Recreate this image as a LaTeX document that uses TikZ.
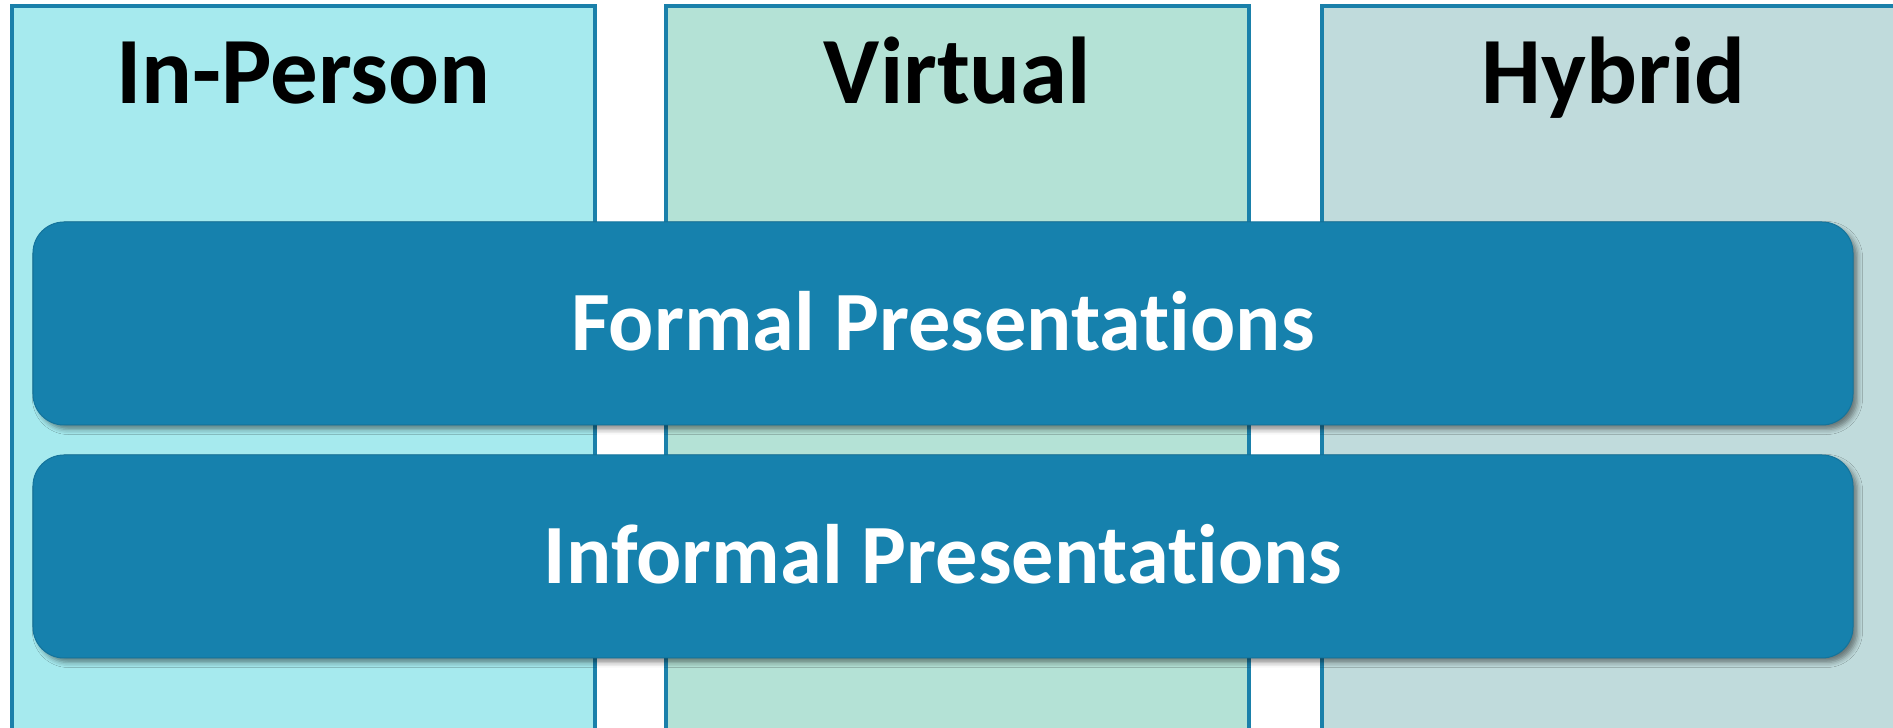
\documentclass[tikz,border=0pt]{standalone}
\usepackage{fontspec}
\setmainfont[Ligatures=NoCommon]{Carlito}
\usetikzlibrary{shadows.blur}

\definecolor{inperson}{RGB}{166,234,238}
\definecolor{virtual}{RGB}{180,226,214}
\definecolor{hybrid}{RGB}{192,219,220}
\definecolor{edgeblue}{RGB}{26,128,170}
\definecolor{barblue}{RGB}{22,129,173}

\begin{document}
\begin{tikzpicture}[col node/.style={rectangle,draw=edgeblue,line width=0.07cm,minimum width=11.66cm,minimum height=15.08cm,inner sep=0pt},
    title node/.style={anchor=base,font=\fontsize{54}{60}\selectfont\bfseries,inner sep=0pt},
    bar node/.style={rectangle,rounded corners=0.62cm,fill=barblue,draw=barblue!90!black,line width=0.02cm,minimum width=36.4cm,minimum height=4.06cm,text=white,font=\fontsize{48}{52}\selectfont\bfseries,text height=1.1cm,text depth=0pt,
        blur shadow={shadow xshift=0.09cm,shadow yshift=-0.09cm,shadow blur radius=0.1cm,shadow opacity=45}}]

                \clip (0,0) rectangle (37.86,-14.56);
                \useasboundingbox (0,0) rectangle (37.86,-14.56);

                % three columns in the back
                \node[col node,fill=inperson] at (6.07, -7.66) (inp) {};
                \node[col node,fill=virtual] at (19.15, -7.66) (virt) {};
                \node[col node,fill=hybrid] at (32.27, -7.66) (hyb) {};

                \node[title node] at ([yshift=-1.98cm]inp.north) (inptitle) {In-Person};
                \node[title node] at ([yshift=-1.98cm]virt.north) (virttitle) {Virtual};
                \node[title node] at ([yshift=-1.98cm]hyb.north) (hybtitle) {Hybrid};

                % bars across all columns
                \node[bar node] at (18.86, -6.47) (formal) {Formal Presentations};
                \node[bar node] at (18.86, -11.13) (informal) {Informal Presentations};
            \end{tikzpicture}
\end{document}
